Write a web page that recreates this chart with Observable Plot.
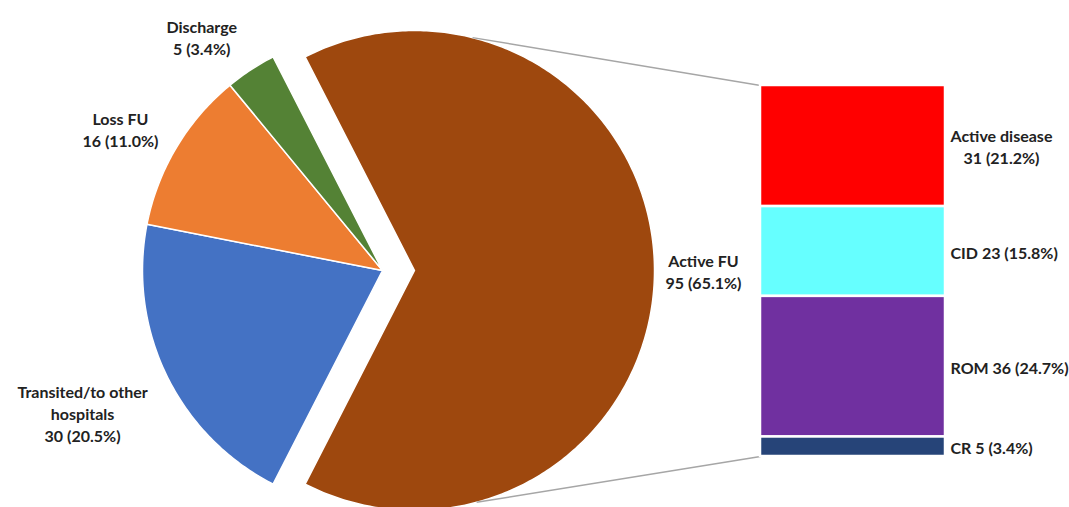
<!DOCTYPE html>
<html><head><meta charset="utf-8">
<script src="https://cdn.jsdelivr.net/npm/d3@7"></script>
<script src="https://cdn.jsdelivr.net/npm/@observablehq/plot@0.6"></script>
<style>body{margin:0;background:#fff;}#chart svg{display:block;}</style>
</head><body><div id="chart"></div>
<script>
// ---- data ----
const pieCategories = ["Active FU", "Transited/to other hospitals", "Loss FU", "Discharge"];
const pieValues = [95, 30, 16, 5];
const pieLabels = ["Active FU\n95 (65.1%)", "Transited/to other\nhospitals\n30 (20.5%)", "Loss FU\n16 (11.0%)", "Discharge\n5 (3.4%)"];
const pieColors = ["#9E480E", "#4472C4", "#ED7D31", "#548235"];

const barCategories = ["Active disease", "CID", "ROM", "CR"];
const barValues = [31, 23, 36, 5];
const barLabels = ["Active disease\n31 (21.2%)", "CID 23 (15.8%)", "ROM 36 (24.7%)", "CR 5 (3.4%)"];
const barColors = ["#FF0000", "#66FFFF", "#7030A0", "#264478"];

// ---- layout (pixels) ----
const W = 1069, H = 507;
const pieCX = 382, pieCY = 270, pieR = 240, explode = 32;
const barX1 = 760, barX2 = 945, barTop = 85, barBottom = 456;
const labelDist = [289, 332, 298, 295];
const labelAngleShift = [0, 0.5, -2.4, -4.5];
const connectorAngles = [14, 165];
const barLabelLeft = 950;
const FONT_FAMILY = "Lato, 'Open Sans', sans-serif";
const FONT_SIZE = 16;

// unit system: one y unit = one count in the bar
const barTotal = d3.sum(barValues);
const k = (barBottom - barTop) / barTotal;
const ux = px => px / k;
const uy = py => (barBottom - py) / k;

// ---- pie geometry ----
const pieTotal = d3.sum(pieValues);
const a0 = Math.PI / 2 - Math.PI * pieValues[0] / pieTotal;
const arcs = d3.pie().sort(null).startAngle(a0).endAngle(a0 + 2 * Math.PI)(pieValues);
const slicePts = [];
const pieLabelData = [];
let activeCenter;
arcs.forEach((a, i) => {
  const mid = (a.startAngle + a.endAngle) / 2;
  const off = i === 0 ? explode : 0;
  const cx = pieCX + off * Math.sin(mid), cy = pieCY - off * Math.cos(mid);
  if (i === 0) activeCenter = [cx, cy];
  const name = pieCategories[i];
  slicePts.push({name, x: ux(cx), y: uy(cy)});
  const n = Math.max(4, Math.ceil((a.endAngle - a.startAngle) * 80));
  for (let j = 0; j <= n; j++) {
    const t = a.startAngle + (a.endAngle - a.startAngle) * j / n;
    slicePts.push({name, x: ux(cx + pieR * Math.sin(t)), y: uy(cy - pieR * Math.cos(t))});
  }
  const la = mid + labelAngleShift[i] * Math.PI / 180;
  pieLabelData.push({
    text: pieLabels[i],
    x: ux(cx + labelDist[i] * Math.sin(la)),
    y: uy(cy - labelDist[i] * Math.cos(la))
  });
});

// ---- bar geometry (stacked top-down) ----
const barData = [];
let acc = barTotal;
barCategories.forEach((name, i) => {
  const y2 = acc, y1 = acc - barValues[i];
  acc = y1;
  barData.push({name, y1, y2, x1: ux(barX1), x2: ux(barX2)});
});

// bar label boxes: left edge fixed, lines centred inside the box
const ctx = document.createElement("canvas").getContext("2d");
ctx.font = `bold ${FONT_SIZE}px ${FONT_FAMILY}`;
const barLabelData = barData.map((d, i) => {
  const w = d3.max(barLabels[i].split("\n"), s => ctx.measureText(s).width);
  return {text: barLabels[i], x: ux(barLabelLeft + w / 2), y: (d.y1 + d.y2) / 2};
});

// connectors
const connectors = connectorAngles.map((deg, i) => {
  const t = deg * Math.PI / 180;
  return {
    x1: ux(activeCenter[0] + pieR * Math.sin(t)),
    y1: uy(activeCenter[1] - pieR * Math.cos(t)),
    x2: ux(barX1),
    y2: i === 0 ? barTotal : 0
  };
});

const textOpts = {
  fontFamily: FONT_FAMILY, fontSize: FONT_SIZE, fontWeight: "bold",
  fill: "#222222", lineAnchor: "middle", lineHeight: 1.375
};

const chart = Plot.plot({
  width: W, height: H,
  margin: 0,
  x: {domain: [0, ux(W)], axis: null},
  y: {domain: [uy(H), uy(0)], axis: null},
  color: {domain: [...pieCategories, ...barCategories], range: [...pieColors, ...barColors]},
  style: {background: "#fff", fontFamily: FONT_FAMILY},
  marks: [
    Plot.line(slicePts, {x: "x", y: "y", z: "name", fill: "name", stroke: "white", strokeWidth: 1.5, curve: "linear-closed"}),
    Plot.link(connectors, {x1: "x1", y1: "y1", x2: "x2", y2: "y2", stroke: "#A6A6A6", strokeWidth: 1.5}),
    Plot.rect(barData, {x1: "x1", x2: "x2", y1: "y1", y2: "y2", fill: "name", stroke: "white", strokeWidth: 2.5}),
    Plot.text(pieLabelData, {x: "x", y: "y", text: "text", ...textOpts}),
    Plot.text(barLabelData, {x: "x", y: "y", text: "text", ...textOpts})
  ]
});
document.getElementById("chart").append(chart);
</script>
</body></html>
